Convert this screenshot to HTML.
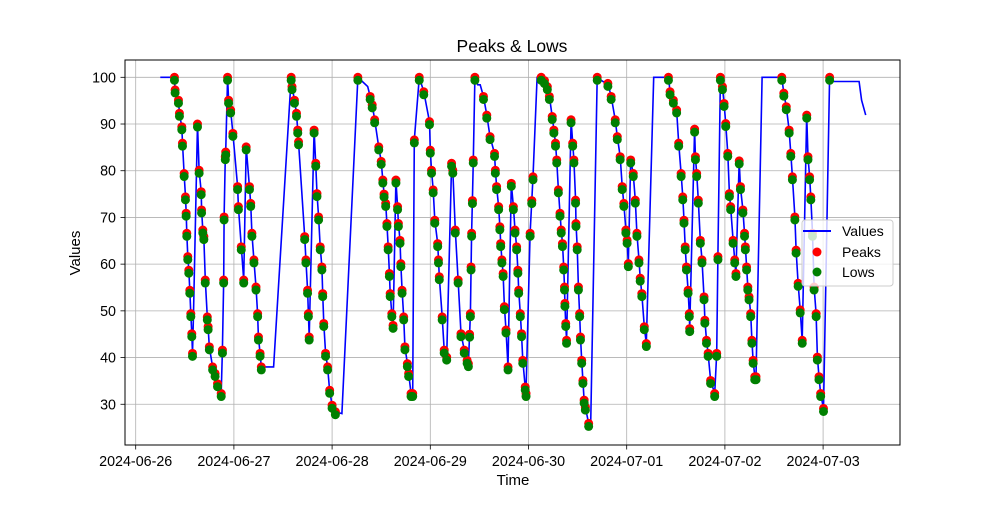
<!DOCTYPE html>
<html><head><meta charset="utf-8"><style>
body{margin:0;background:#fff;font-family:"Liberation Sans",sans-serif}
svg text{font-family:"Liberation Sans",sans-serif}
</style></head><body>
<svg id="chart" width="1000" height="500" xmlns="http://www.w3.org/2000/svg">
<rect width="1000" height="500" fill="#fff"/>
<text x="512" y="52" text-anchor="middle" font-size="17.5">Peaks &amp; Lows</text>
<g id="grid"></g>
<g id="series"></g>
<rect x="125" y="60" width="775" height="385" fill="none" stroke="#000" stroke-width="1"/>
<g id="axes"></g>
<text x="513" y="485" text-anchor="middle" font-size="15">Time</text>
<text x="80" y="253" text-anchor="middle" font-size="15" transform="rotate(-90 80 253)">Values</text>
<g>
<rect x="802" y="220" width="91" height="66" rx="3" fill="#fff" fill-opacity="0.8" stroke="#ccc"/>
<line x1="803" y1="231" x2="831" y2="231" stroke="blue" stroke-width="2"/>
<text x="842" y="236" font-size="14">Values</text>
<circle cx="817" cy="252" r="4.5" fill="red"/>
<text x="842" y="257" font-size="14">Peaks</text>
<circle cx="817" cy="272" r="4.5" fill="green"/>
<text x="842" y="277" font-size="14">Lows</text>
</g>
</svg>
<script>
const times=[6.0,9.47,9.63,10.45,10.69,11.27,11.43,11.84,12.16,12.33,12.49,12.73,12.98,13.22,13.47,13.71,13.88,14.12,
15.1,15.5,16,16.1,16.4,16.65,17,17.5,17.7,18,18.8,19.4,20,20.9,21.2,21.5,21.6,21.9,22.0,22.45,22.7,23.2,23.75,24.9,25.1,25.8,26.4,
27.0,27.8,28.1,28.4,28.9,29.4,29.8,30.0,30.4,30.7,33.7,
38.0,38.2,38.8,39.3,39.6,39.8,41.3,41.6,42,42.2,42.4,43.6,44.0,44.3,44.7,45.1,45.5,45.7,45.96,46.4,46.9,47.4,48.0,48.8,50.4,
54.3,56.7,57.3,57.8,58.4,59.4,60.0,60.4,60.7,61.1,61.4,61.7,62.0,62.2,62.6,62.9,
63.6,64.0,64.2,64.6,64.8,65.1,65.5,65.8,66.4,66.7,67.3,67.7,68.1,69.3,70.4,71.8,72.0,72.3,72.7,73.1,73.8,74.0,74.2,74.9,75.4,76.0,
77.2,77.5,78.1,78.8,79.5,80.3,81.0,81.3,81.6,81.8,81.96,82.1,82.3,82.5,82.9,83.6,84.2,85.0,85.8,86.6,87.7,87.9,88.2,88.7,89.0,89.2,89.5,89.8,90.1,90.5,91.0,
91.8,92.3,92.7,93.1,93.4,93.6,94.0,94.3,94.6,95.2,95.4,96.4,96.8,97.1,98.1,99.1,99.9,100.6,101.1,101.8,102.2,102.6,102.9,103.3,103.7,104.0,104.3,104.6,104.8,104.9,105.1,105.3,
106.4,106.8,107.1,107.5,107.6,107.9,108.2,108.5,108.7,109.0,109.3,109.6,109.9,110.7,111.2,
112.8,114.2,115.4,116.2,117.2,117.7,118.4,118.9,119.3,119.8,120.1,120.4,120.98,121.6,122.1,122.5,123.0,123.3,123.7,124.3,124.8,
126.6,130.2,130.6,131.4,132.2,132.7,133.3,133.7,134.0,134.3,134.6,135.0,135.3,135.4,136.6,136.8,137.1,137.5,138.0,138.4,138.9,139.1,139.5,139.9,140.5,141.5,142.0,142.3,
142.9,143.4,143.8,144.2,144.7,145.1,145.4,146.0,146.4,146.7,147.5,147.8,148.4,148.8,149.0,149.3,149.6,149.9,150.3,150.6,150.9,151.3,151.6,
153.1,157.9,158.4,159.0,159.7,160.1,160.5,161.1,161.4,161.9,162.4,162.9,164.0,164.3,164.7,165.0,165.4,165.8,166.3,166.6,167.0,167.4,168.1,
169.6,170.4,176.8,177.4,178.4];
const values=[100,100,97.3,95.1,92.3,89.4,85.9,79.4,74.4,70.9,66.6,61.6,58.7,54.4,49.4,45.1,40.9,49.4,
90,80.1,75.5,71.6,67.3,65.9,56.6,48.7,46.6,42.3,38,36.6,34.4,32.3,41.6,56.6,70.1,83,84,100,95.1,93,88,76.6,72.3,63.7,56.6,
85.1,76.6,73,66.6,60.9,55.1,49.4,44.4,40.9,38,38,
100,98,95.1,92.3,88.7,86.2,65.9,60.9,54.4,49.4,44.4,88.7,81.6,75.1,70.1,63.7,59.4,53.7,47.3,40.9,38,33,29.8,28.4,28,
100,98,95.9,94.1,90.9,85.1,82,78,75,73,68.7,63.7,58,53.7,49.4,46.9,
78,72.3,68.7,65.1,60.1,54.4,48.7,42.3,38.7,36.6,32.3,32.3,86.6,100,96.9,90.5,84.4,80.1,75.9,69.4,64.4,60.9,57.3,48.7,41.6,40.1,
81.6,80.1,67.3,56.6,45.1,41.6,39.4,38.7,45,49.4,59.4,66.6,73.6,82.3,100,98.4,98.4,95.9,91.9,87.3,83.7,80.1,76.6,72.3,68,64.4,60.9,58,50.9,45.9,38,
77.3,72.3,67.3,63.7,58.7,54.4,49.4,45.1,39.4,33.7,32.3,66.6,73.6,78.7,100,100,99.3,98,95.9,91.6,88.7,85.9,82.3,75.9,70.9,67.3,64.4,59.4,55.1,51.6,47.3,43.7,
90.9,85.9,82.3,73.7,68.7,63.7,55.1,49.4,44.4,39.4,35.1,30.9,29.4,25.9,25.9,
100,99.1,98.7,95.9,90.9,87.3,83,76.6,73,67.3,65.1,60.1,82.3,79.4,73.7,66.6,60.9,57,53.7,46.6,43,
100,100,96.9,95.1,93,85.9,79.4,74.4,69.4,63.7,59.4,54.4,49.4,46.2,88.9,83,79.4,73.7,65.1,60.9,53,48,43.7,40.9,35.1,32.3,40.9,61.6,
100,98,94.4,90.1,83.7,75.1,72.3,65.1,60.9,58,82.1,76.6,71.6,66.6,63.7,59.4,55.1,53,49.4,43.7,39.4,35.9,35.9,
100,100,96.6,93.7,88.7,83.7,78.7,70.1,63,55.9,50.2,43.7,91.9,83,78.7,74.4,66.6,55.1,49.4,40.1,35.9,32.3,29.1,
100,99.1,99.1,95.1,91.9];
const unmarkedTimes=[6.0,14.12,33.7,50.4,56.7,83.6,84.2,98.1,111.2,114.2,126.6,153.1,170.4,176.8,177.4,178.4];
const dayLabels=["2024-06-26","2024-06-27","2024-06-28","2024-06-29","2024-06-30","2024-07-01","2024-07-02","2024-07-03"];
const yTicks=[30,40,50,60,70,80,90,100];

const NS="http://www.w3.org/2000/svg";
const xs=h=>135.7+h*98.2/24;
const ys=v=>77.3+(100-v)*4.671;
function mk(tag,attrs,parent){const e=document.createElementNS(NS,tag);for(const k in attrs)e.setAttribute(k,attrs[k]);parent.appendChild(e);return e;}
const grid=document.getElementById('grid'),axes=document.getElementById('axes'),series=document.getElementById('series');
dayLabels.forEach((d,i)=>{
  const x=xs(i*24);
  const g=mk('line',{x1:x,x2:x,y1:60,y2:445,stroke:'#b0b0b0','stroke-width':0.8},grid);
  
  
  const t=mk('line',{x1:x,x2:x,y1:445,y2:449.5,stroke:'#000','stroke-width':0.8},axes);
  
  
  const l=mk('text',{x:x,y:466,'text-anchor':'middle','font-size':14.3},axes);
  l.textContent=d;
  
  
});
yTicks.forEach(v=>{
  const y=ys(v);
  const g=mk('line',{x1:125,x2:900,y1:y,y2:y,stroke:'#b0b0b0','stroke-width':0.8},grid);
  
  
  const t=mk('line',{x1:120.5,x2:125,y1:y,y2:y,stroke:'#000','stroke-width':0.8},axes);
  
  
  const l=mk('text',{x:116,y:y+5,'text-anchor':'end','font-size':14.3},axes);
  l.textContent=v;
  
  
});
const pts=times.map((h,i)=>xs(h).toFixed(1)+','+ys(values[i]).toFixed(1)).join(' ');
const line=mk('polyline',{points:pts,fill:'none',stroke:'blue','stroke-width':1.6},series);


times.forEach((h,i)=>{
  if(unmarkedTimes.includes(h))return;
  const p=mk('circle',{cx:xs(h),cy:ys(values[i]),r:4.5,fill:'red'},series);
  
  
});
times.forEach((h,i)=>{
  if(unmarkedTimes.includes(h))return;
  const p=mk('circle',{cx:xs(h),cy:ys(values[i])+3,r:4.5,fill:'green'},series);
  
  
});
</script>
</body></html>
